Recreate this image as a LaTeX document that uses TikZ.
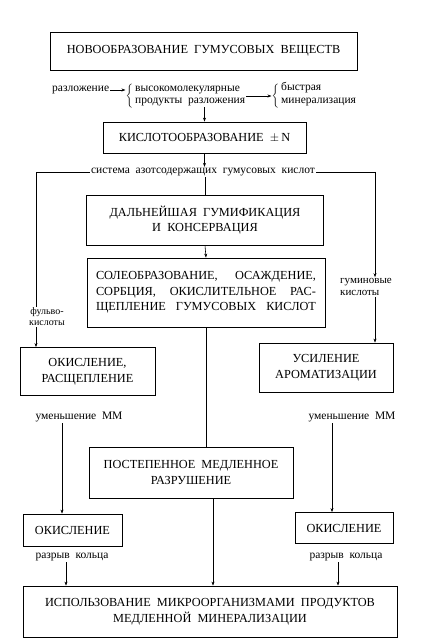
\documentclass[tikz,border=0pt]{standalone}
\usepackage{fontspec}
\setmainfont{Liberation Serif}
\usetikzlibrary{arrows.meta}
\tikzset{
  box/.style={draw, line width=0.8pt, align=center, inner sep=0pt, font=\fontsize{12.3}{15.5}\selectfont},
  lbl/.style={inner sep=1pt, align=center, font=\fontsize{11.5}{12.5}\selectfont},
  arr/.style={-{Stealth[length=4pt,width=3pt]}, line width=0.6pt},
  ln/.style={line width=0.7pt},
}
\begin{document}
\begin{tikzpicture}[x=1pt,y=-1pt]
\useasboundingbox (0,0) rectangle (426,639);
% boxes
\node[box, minimum width=307, minimum height=38] (b1) at (203.5,51) {НОВООБРАЗОВАНИЕ\ \ ГУМУСОВЫХ\ \ ВЕЩЕСТВ};
\node[box, minimum width=203, minimum height=31] (b2) at (204.5,137.5) {КИСЛОТООБРАЗОВАНИЕ\ \ $\pm$\,N};
\node[box, minimum width=237, minimum height=50] (b3) at (205,220) {ДАЛЬНЕЙШАЯ\ \ ГУМИФИКАЦИЯ\\И\ \ КОНСЕРВАЦИЯ};
\node[box, minimum width=238, minimum height=69] (b4) at (206,292.5) {\makebox[220pt][s]{СОЛЕОБРАЗОВАНИЕ,\ \ ОСАЖДЕНИЕ,}\\\makebox[220pt][s]{СОРБЦИЯ,\ \ ОКИСЛИТЕЛЬНОЕ\ \ РАС-}\\\makebox[220pt][s]{ЩЕПЛЕНИЕ\ \ ГУМУСОВЫХ\ \ КИСЛОТ}};
\node[box, minimum width=135, minimum height=48] (b7) at (87.5,371.5) {ОКИСЛЕНИЕ,\\РАСЩЕПЛЕНИЕ};
\node[box, minimum width=134, minimum height=49] (b9) at (326,367.5) {УСИЛЕНИЕ\\АРОМАТИЗАЦИИ};
\node[box, minimum width=204, minimum height=51] (b5) at (191,472.5) {ПОСТЕПЕННОЕ\ \ МЕДЛЕННОЕ\\РАЗРУШЕНИЕ};
\node[box, minimum width=99, minimum height=32] (b8) at (72.5,530) {ОКИСЛЕНИЕ};
\node[box, minimum width=98, minimum height=31] (b10) at (344,528) {ОКИСЛЕНИЕ};
\node[box, minimum width=374, minimum height=51] (b6) at (210,611.5) {ИСПОЛЬЗОВАНИЕ\ \ МИКРООРГАНИЗМАМИ\ \ ПРОДУКТОВ\\МЕДЛЕННОЙ\ \ МИНЕРАЛИЗАЦИИ};
% top row
\node[lbl, anchor=west] (razl) at (51,90) {разложение};
\node[inner sep=0pt] (br1) at (130,96) {$\left\{\rule{0pt}{13pt}\right.$};
\node[lbl, align=left, anchor=west] (vys) at (134,96) {высокомолекулярные\\продукты\ \ разложения};
\node[inner sep=0pt] (br2) at (276,96) {$\left\{\rule{0pt}{13pt}\right.$};
\node[lbl, align=left, anchor=west] (bys) at (280,94) {быстрая\\минерализация};
\draw[arr] (razl.east) -- (br1.west |- razl.east);
\draw[arr] (vys.east) -- (br2.west);
\draw[arr] (b2.north |- vys.south) -- (b2.north);
% system
\node[lbl] (sys) at (203,172) {система\ \ азотсодержащих\ \ гумусовых\ \ кислот};
\draw[arr] (b2.south) -- (b2.south |- sys.north);
\draw[ln] (b3.north |- sys.south) -- (b3.north);
\draw[arr] (b3.south) -- (b4.north);
\draw[ln] (b4.south) -- (b4.south |- b5.north);
\coordinate (c5) at ([xshift=22pt]b5.south);
\draw[arr] (c5) -- (c5 |- b6.north);
% left branch
\coordinate (L1) at (36,172);
\node[lbl, font=\fontsize{10}{11}\selectfont] (fulvo) at (47,317) {фульво-\\кислоты};
\draw[ln] (sys.west) -- (L1) -- (L1 |- fulvo.north);
\draw[arr] (L1 |- fulvo.south) -- (L1 |- b7.north);
\node[lbl] (umL) at (79,417) {уменьшение\ \ ММ};
\coordinate (aL) at ([xshift=-10.5pt]b8.north);
\draw[arr] (aL |- umL.south) -- (aL);
\node[lbl] (rkL) at (72,557) {разрыв\ \ кольца};
\coordinate (aL2) at (66,0);
\draw[arr] (aL2 |- rkL.south) -- (aL2 |- b6.north);
% right branch
\coordinate (R1) at (375,172);
\node[lbl, align=left, font=\fontsize{11}{12}\selectfont] (gum) at (366,287) {гуминовые\\кислоты};
\draw[ln] (sys.east) -- (R1);
\draw[arr] (R1) -- (R1 |- gum.north);
\draw[arr] (R1 |- gum.south) -- (R1 |- b9.north);
\node[lbl] (umR) at (352,417) {уменьшение\ \ ММ};
\coordinate (aR) at (332,0);
\draw[arr] (aR |- umR.south) -- (aR |- b10.north);
\node[lbl] (rkR) at (346,557) {разрыв\ \ кольца};
\coordinate (aR2) at (338,0);
\draw[arr] (aR2 |- rkR.south) -- (aR2 |- b6.north);
\end{tikzpicture}
\end{document}
